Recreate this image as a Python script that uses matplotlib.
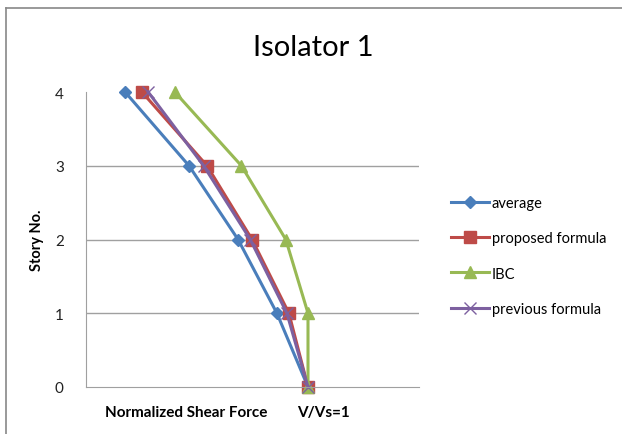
import matplotlib
matplotlib.use("Agg")
import matplotlib.pyplot as plt
from matplotlib.lines import Line2D

plt.rcParams['font.family'] = ['Lato', 'DejaVu Sans']

stories = [4, 3, 2, 1, 0]
average = [0.176, 0.464, 0.685, 0.86, 1.0]
proposed = [0.252, 0.545, 0.748, 0.914, 1.0]
ibc = [0.40, 0.70, 0.90, 1.0, 1.0]
previous = [0.28, 0.53, 0.74, 0.905, 1.0]
grid_levels = [1, 2, 3]

series_names = ["average", "proposed formula", "IBC", "previous formula"]
colors = ["#4A7EBB", "#BE4B48", "#98B954", "#7D60A0"]

W, H = 622, 435
fig = plt.figure(figsize=(W / 100, H / 100), dpi=100)

# outer chart frame (left and top edges visible)
fig.add_artist(Line2D([6 / W, 6 / W], [0, 1 - 9 / H], color="#888888", lw=1.2))
fig.add_artist(Line2D([6 / W, 1], [1 - 9 / H, 1 - 9 / H], color="#888888", lw=1.2))

ax = fig.add_axes([86 / W, (H - 388) / H, (419 - 86) / W, (388 - 93) / H])

for g in grid_levels:
    ax.axhline(g, color="#A0A0A0", lw=1, zorder=0)

ax.plot(average, stories, color=colors[0], lw=2.2, marker="D", ms=6.5, label=series_names[0], clip_on=False)
ax.plot(proposed, stories, color=colors[1], lw=2.2, marker="s", ms=8.5, label=series_names[1], clip_on=False)
ax.plot(ibc, stories, color=colors[2], lw=2.2, marker="^", ms=9, label=series_names[2], clip_on=False)
ax.plot(previous, stories, color=colors[3], lw=2.2, marker="x", ms=8, mew=1, label=series_names[3], clip_on=False)

ax.set_xlim(0, 1.5)
ax.set_ylim(0, 4)
ax.set_yticks([0, 1, 2, 3, 4])
ax.set_xticks([])
for s in ["top", "right"]:
    ax.spines[s].set_visible(False)
ax.spines["left"].set_color("#A0A0A0")
ax.spines["bottom"].set_color("#A0A0A0")
ax.tick_params(axis="y", length=0, pad=16, labelsize=11, colors="#222222")

ax.set_ylabel("Story No.", fontsize=10.5, fontweight="bold", labelpad=8)
fig.text(105 / W, 1 - 413 / H, "Normalized Shear Force", fontsize=11, fontweight="bold",
         ha="left", va="center")
fig.text(297 / W, 1 - 413 / H, "V/Vs=1", fontsize=11, fontweight="bold",
         ha="left", va="center")

fig.text(313 / W, 1 - 48 / H, "Isolator 1", fontsize=21, ha="center", va="center")

leg = ax.legend(loc="center left", bbox_to_anchor=(438 / W, 1 - 257 / H),
                bbox_transform=fig.transFigure, frameon=False, fontsize=10.5,
                handlelength=2.6, labelspacing=1.45, handletextpad=0.2)

fig.savefig("out.png", dpi=100)
